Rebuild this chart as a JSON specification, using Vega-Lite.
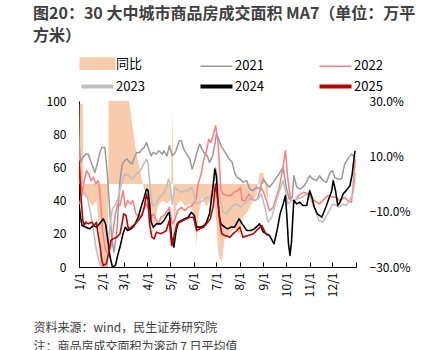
{
  "$schema": "https://vega.github.io/schema/vega-lite/v6.json",
  "width": 277,
  "height": 166,
  "autosize": {"type": "none"},
  "padding": {"left": 79, "top": 101, "right": 83, "bottom": 83},
  "background": "white",
  "config": {"view": {"stroke": null}, "font": "Noto Sans CJK SC"},
  "title": {
    "text": ["图20：30 大中城市商品房成交面积 MA7（单位：万平", "方米）"],
    "anchor": "start", "frame": "group", "dx": -46, "offset": 13,
    "font": "Noto Sans CJK SC", "fontSize": 16, "fontWeight": "bold", "color": "#404040", "lineHeight": 22
  },
  "datasets": {
    "yoy": [
      {"date": "2001-01-01", "series": "同比", "yoy": 0.05},
      {"date": "2001-01-02", "series": "同比", "yoy": 0.29},
      {"date": "2001-01-06", "series": "同比", "yoy": 0.29},
      {"date": "2001-01-07", "series": "同比", "yoy": -0.04},
      {"date": "2001-01-13", "series": "同比", "yoy": -0.06},
      {"date": "2001-01-19", "series": "同比", "yoy": -0.08},
      {"date": "2001-01-24", "series": "同比", "yoy": -0.06},
      {"date": "2001-01-27", "series": "同比", "yoy": -0.14},
      {"date": "2001-01-29", "series": "同比", "yoy": -0.30},
      {"date": "2001-02-08", "series": "同比", "yoy": -0.30},
      {"date": "2001-02-09", "series": "同比", "yoy": 0.30},
      {"date": "2001-03-08", "series": "同比", "yoy": 0.30},
      {"date": "2001-03-12", "series": "同比", "yoy": 0.22},
      {"date": "2001-03-16", "series": "同比", "yoy": 0.14},
      {"date": "2001-03-20", "series": "同比", "yoy": 0.08},
      {"date": "2001-03-24", "series": "同比", "yoy": 0.03},
      {"date": "2001-03-28", "series": "同比", "yoy": -0.02},
      {"date": "2001-04-01", "series": "同比", "yoy": -0.05},
      {"date": "2001-04-05", "series": "同比", "yoy": -0.08},
      {"date": "2001-04-08", "series": "同比", "yoy": -0.18},
      {"date": "2001-04-11", "series": "同比", "yoy": -0.14},
      {"date": "2001-04-15", "series": "同比", "yoy": -0.08},
      {"date": "2001-04-21", "series": "同比", "yoy": -0.06},
      {"date": "2001-04-27", "series": "同比", "yoy": -0.07},
      {"date": "2001-05-02", "series": "同比", "yoy": -0.06},
      {"date": "2001-05-04", "series": "同比", "yoy": 0.26},
      {"date": "2001-05-06", "series": "同比", "yoy": -0.20},
      {"date": "2001-05-09", "series": "同比", "yoy": -0.08},
      {"date": "2001-05-15", "series": "同比", "yoy": -0.06},
      {"date": "2001-05-21", "series": "同比", "yoy": -0.08},
      {"date": "2001-05-27", "series": "同比", "yoy": -0.07},
      {"date": "2001-05-31", "series": "同比", "yoy": -0.10},
      {"date": "2001-06-03", "series": "同比", "yoy": -0.16},
      {"date": "2001-06-05", "series": "同比", "yoy": -0.22},
      {"date": "2001-06-07", "series": "同比", "yoy": -0.12},
      {"date": "2001-06-12", "series": "同比", "yoy": -0.05},
      {"date": "2001-06-18", "series": "同比", "yoy": -0.08},
      {"date": "2001-06-24", "series": "同比", "yoy": -0.06},
      {"date": "2001-06-28", "series": "同比", "yoy": -0.04},
      {"date": "2001-07-01", "series": "同比", "yoy": -0.14},
      {"date": "2001-07-04", "series": "同比", "yoy": -0.26},
      {"date": "2001-07-08", "series": "同比", "yoy": -0.28},
      {"date": "2001-07-12", "series": "同比", "yoy": -0.20},
      {"date": "2001-07-18", "series": "同比", "yoy": -0.18},
      {"date": "2001-07-25", "series": "同比", "yoy": -0.16},
      {"date": "2001-08-01", "series": "同比", "yoy": -0.18},
      {"date": "2001-08-05", "series": "同比", "yoy": -0.12},
      {"date": "2001-08-11", "series": "同比", "yoy": -0.10},
      {"date": "2001-08-17", "series": "同比", "yoy": -0.07},
      {"date": "2001-08-23", "series": "同比", "yoy": -0.04},
      {"date": "2001-08-27", "series": "同比", "yoy": 0.04},
      {"date": "2001-09-01", "series": "同比", "yoy": 0.04},
      {"date": "2001-09-04", "series": "同比", "yoy": -0.03},
      {"date": "2001-09-07", "series": "同比", "yoy": -0.06}
    ],
    "lines": [
      {"date": "2001-01-01", "series": "2021", "value": 77},
      {"date": "2001-01-03", "series": "2021", "value": 63},
      {"date": "2001-01-06", "series": "2021", "value": 66},
      {"date": "2001-01-10", "series": "2021", "value": 68},
      {"date": "2001-01-13", "series": "2021", "value": 68},
      {"date": "2001-01-17", "series": "2021", "value": 63},
      {"date": "2001-01-22", "series": "2021", "value": 57},
      {"date": "2001-01-25", "series": "2021", "value": 62},
      {"date": "2001-01-28", "series": "2021", "value": 68},
      {"date": "2001-01-31", "series": "2021", "value": 72},
      {"date": "2001-02-04", "series": "2021", "value": 72},
      {"date": "2001-02-07", "series": "2021", "value": 58},
      {"date": "2001-02-10", "series": "2021", "value": 38},
      {"date": "2001-02-13", "series": "2021", "value": 18},
      {"date": "2001-02-16", "series": "2021", "value": 9},
      {"date": "2001-02-20", "series": "2021", "value": 22},
      {"date": "2001-02-24", "series": "2021", "value": 52},
      {"date": "2001-02-27", "series": "2021", "value": 62},
      {"date": "2001-03-02", "series": "2021", "value": 64},
      {"date": "2001-03-05", "series": "2021", "value": 65},
      {"date": "2001-03-09", "series": "2021", "value": 63},
      {"date": "2001-03-12", "series": "2021", "value": 62},
      {"date": "2001-03-15", "series": "2021", "value": 66},
      {"date": "2001-03-18", "series": "2021", "value": 69},
      {"date": "2001-03-22", "series": "2021", "value": 69},
      {"date": "2001-03-25", "series": "2021", "value": 71},
      {"date": "2001-03-28", "series": "2021", "value": 72},
      {"date": "2001-03-31", "series": "2021", "value": 75},
      {"date": "2001-04-02", "series": "2021", "value": 72},
      {"date": "2001-04-06", "series": "2021", "value": 67},
      {"date": "2001-04-09", "series": "2021", "value": 69},
      {"date": "2001-04-13", "series": "2021", "value": 68},
      {"date": "2001-04-16", "series": "2021", "value": 70},
      {"date": "2001-04-21", "series": "2021", "value": 68},
      {"date": "2001-04-23", "series": "2021", "value": 70},
      {"date": "2001-04-27", "series": "2021", "value": 67},
      {"date": "2001-04-30", "series": "2021", "value": 73},
      {"date": "2001-05-04", "series": "2021", "value": 67},
      {"date": "2001-05-08", "series": "2021", "value": 69},
      {"date": "2001-05-13", "series": "2021", "value": 76},
      {"date": "2001-05-16", "series": "2021", "value": 76},
      {"date": "2001-05-19", "series": "2021", "value": 71},
      {"date": "2001-05-23", "series": "2021", "value": 68},
      {"date": "2001-05-27", "series": "2021", "value": 65},
      {"date": "2001-05-30", "series": "2021", "value": 59},
      {"date": "2001-06-02", "series": "2021", "value": 63},
      {"date": "2001-06-06", "series": "2021", "value": 70},
      {"date": "2001-06-09", "series": "2021", "value": 74},
      {"date": "2001-06-12", "series": "2021", "value": 71},
      {"date": "2001-06-16", "series": "2021", "value": 68},
      {"date": "2001-06-19", "series": "2021", "value": 67},
      {"date": "2001-06-22", "series": "2021", "value": 63},
      {"date": "2001-06-26", "series": "2021", "value": 67},
      {"date": "2001-06-29", "series": "2021", "value": 74},
      {"date": "2001-07-01", "series": "2021", "value": 80},
      {"date": "2001-07-04", "series": "2021", "value": 77},
      {"date": "2001-07-07", "series": "2021", "value": 73},
      {"date": "2001-07-10", "series": "2021", "value": 71},
      {"date": "2001-07-14", "series": "2021", "value": 68},
      {"date": "2001-07-18", "series": "2021", "value": 65},
      {"date": "2001-07-22", "series": "2021", "value": 63},
      {"date": "2001-07-25", "series": "2021", "value": 57},
      {"date": "2001-07-28", "series": "2021", "value": 54},
      {"date": "2001-08-01", "series": "2021", "value": 53},
      {"date": "2001-08-05", "series": "2021", "value": 51},
      {"date": "2001-08-10", "series": "2021", "value": 52},
      {"date": "2001-08-14", "series": "2021", "value": 47},
      {"date": "2001-08-18", "series": "2021", "value": 46},
      {"date": "2001-08-23", "series": "2021", "value": 48},
      {"date": "2001-08-27", "series": "2021", "value": 47},
      {"date": "2001-09-01", "series": "2021", "value": 53},
      {"date": "2001-09-05", "series": "2021", "value": 50},
      {"date": "2001-09-09", "series": "2021", "value": 48},
      {"date": "2001-09-14", "series": "2021", "value": 51},
      {"date": "2001-09-20", "series": "2021", "value": 55},
      {"date": "2001-09-27", "series": "2021", "value": 60},
      {"date": "2001-10-01", "series": "2021", "value": 48},
      {"date": "2001-10-05", "series": "2021", "value": 41},
      {"date": "2001-10-09", "series": "2021", "value": 42},
      {"date": "2001-10-11", "series": "2021", "value": 55},
      {"date": "2001-10-15", "series": "2021", "value": 48},
      {"date": "2001-10-20", "series": "2021", "value": 47},
      {"date": "2001-10-25", "series": "2021", "value": 49},
      {"date": "2001-11-01", "series": "2021", "value": 55},
      {"date": "2001-11-05", "series": "2021", "value": 53},
      {"date": "2001-11-10", "series": "2021", "value": 52},
      {"date": "2001-11-14", "series": "2021", "value": 55},
      {"date": "2001-11-19", "series": "2021", "value": 52},
      {"date": "2001-11-23", "series": "2021", "value": 51},
      {"date": "2001-11-28", "series": "2021", "value": 57},
      {"date": "2001-12-01", "series": "2021", "value": 58},
      {"date": "2001-12-04", "series": "2021", "value": 54},
      {"date": "2001-12-08", "series": "2021", "value": 53},
      {"date": "2001-12-13", "series": "2021", "value": 53},
      {"date": "2001-12-17", "series": "2021", "value": 62},
      {"date": "2001-12-21", "series": "2021", "value": 65},
      {"date": "2001-12-26", "series": "2021", "value": 68},
      {"date": "2001-12-29", "series": "2021", "value": 67},
      {"date": "2001-12-31", "series": "2021", "value": 66},

      {"date": "2001-01-01", "series": "2022", "value": 68},
      {"date": "2001-01-03", "series": "2022", "value": 56},
      {"date": "2001-01-05", "series": "2022", "value": 44},
      {"date": "2001-01-08", "series": "2022", "value": 52},
      {"date": "2001-01-11", "series": "2022", "value": 58},
      {"date": "2001-01-14", "series": "2022", "value": 56},
      {"date": "2001-01-17", "series": "2022", "value": 52},
      {"date": "2001-01-20", "series": "2022", "value": 54},
      {"date": "2001-01-23", "series": "2022", "value": 50},
      {"date": "2001-01-26", "series": "2022", "value": 52},
      {"date": "2001-01-28", "series": "2022", "value": 48},
      {"date": "2001-01-30", "series": "2022", "value": 36},
      {"date": "2001-02-01", "series": "2022", "value": 22},
      {"date": "2001-02-05", "series": "2022", "value": 10},
      {"date": "2001-02-08", "series": "2022", "value": 8},
      {"date": "2001-02-12", "series": "2022", "value": 12},
      {"date": "2001-02-15", "series": "2022", "value": 22},
      {"date": "2001-02-18", "series": "2022", "value": 32},
      {"date": "2001-02-21", "series": "2022", "value": 38},
      {"date": "2001-02-24", "series": "2022", "value": 37},
      {"date": "2001-02-28", "series": "2022", "value": 46},
      {"date": "2001-03-03", "series": "2022", "value": 36},
      {"date": "2001-03-06", "series": "2022", "value": 40},
      {"date": "2001-03-10", "series": "2022", "value": 38},
      {"date": "2001-03-13", "series": "2022", "value": 40},
      {"date": "2001-03-17", "series": "2022", "value": 32},
      {"date": "2001-03-22", "series": "2022", "value": 30},
      {"date": "2001-03-25", "series": "2022", "value": 32},
      {"date": "2001-03-28", "series": "2022", "value": 36},
      {"date": "2001-03-31", "series": "2022", "value": 38},
      {"date": "2001-04-03", "series": "2022", "value": 34},
      {"date": "2001-04-06", "series": "2022", "value": 30},
      {"date": "2001-04-09", "series": "2022", "value": 32},
      {"date": "2001-04-13", "series": "2022", "value": 28},
      {"date": "2001-04-16", "series": "2022", "value": 26},
      {"date": "2001-04-19", "series": "2022", "value": 30},
      {"date": "2001-04-23", "series": "2022", "value": 31},
      {"date": "2001-04-28", "series": "2022", "value": 34},
      {"date": "2001-04-30", "series": "2022", "value": 36},
      {"date": "2001-05-04", "series": "2022", "value": 26},
      {"date": "2001-05-07", "series": "2022", "value": 28},
      {"date": "2001-05-11", "series": "2022", "value": 34},
      {"date": "2001-05-16", "series": "2022", "value": 36},
      {"date": "2001-05-20", "series": "2022", "value": 34},
      {"date": "2001-05-25", "series": "2022", "value": 36},
      {"date": "2001-05-30", "series": "2022", "value": 37},
      {"date": "2001-06-04", "series": "2022", "value": 40},
      {"date": "2001-06-07", "series": "2022", "value": 50},
      {"date": "2001-06-11", "series": "2022", "value": 56},
      {"date": "2001-06-14", "series": "2022", "value": 64},
      {"date": "2001-06-18", "series": "2022", "value": 70},
      {"date": "2001-06-21", "series": "2022", "value": 77},
      {"date": "2001-06-24", "series": "2022", "value": 75},
      {"date": "2001-06-27", "series": "2022", "value": 80},
      {"date": "2001-06-30", "series": "2022", "value": 85},
      {"date": "2001-07-03", "series": "2022", "value": 76},
      {"date": "2001-07-05", "series": "2022", "value": 62},
      {"date": "2001-07-07", "series": "2022", "value": 46},
      {"date": "2001-07-10", "series": "2022", "value": 44},
      {"date": "2001-07-15", "series": "2022", "value": 43},
      {"date": "2001-07-20", "series": "2022", "value": 43},
      {"date": "2001-07-24", "series": "2022", "value": 45},
      {"date": "2001-07-29", "series": "2022", "value": 46},
      {"date": "2001-08-02", "series": "2022", "value": 48},
      {"date": "2001-08-04", "series": "2022", "value": 40},
      {"date": "2001-08-08", "series": "2022", "value": 40},
      {"date": "2001-08-13", "series": "2022", "value": 44},
      {"date": "2001-08-16", "series": "2022", "value": 41},
      {"date": "2001-08-20", "series": "2022", "value": 40},
      {"date": "2001-08-24", "series": "2022", "value": 41},
      {"date": "2001-08-29", "series": "2022", "value": 48},
      {"date": "2001-09-02", "series": "2022", "value": 44},
      {"date": "2001-09-05", "series": "2022", "value": 40},
      {"date": "2001-09-09", "series": "2022", "value": 34},
      {"date": "2001-09-14", "series": "2022", "value": 36},
      {"date": "2001-09-22", "series": "2022", "value": 48},
      {"date": "2001-09-26", "series": "2022", "value": 58},
      {"date": "2001-09-30", "series": "2022", "value": 70},
      {"date": "2001-10-03", "series": "2022", "value": 54},
      {"date": "2001-10-07", "series": "2022", "value": 40},
      {"date": "2001-10-13", "series": "2022", "value": 40},
      {"date": "2001-10-17", "series": "2022", "value": 43},
      {"date": "2001-10-24", "series": "2022", "value": 45},
      {"date": "2001-10-31", "series": "2022", "value": 44},
      {"date": "2001-11-03", "series": "2022", "value": 42},
      {"date": "2001-11-07", "series": "2022", "value": 40},
      {"date": "2001-11-14", "series": "2022", "value": 38},
      {"date": "2001-11-18", "series": "2022", "value": 40},
      {"date": "2001-11-25", "series": "2022", "value": 43},
      {"date": "2001-12-02", "series": "2022", "value": 42},
      {"date": "2001-12-06", "series": "2022", "value": 42},
      {"date": "2001-12-10", "series": "2022", "value": 40},
      {"date": "2001-12-17", "series": "2022", "value": 42},
      {"date": "2001-12-21", "series": "2022", "value": 40},
      {"date": "2001-12-26", "series": "2022", "value": 39},
      {"date": "2001-12-28", "series": "2022", "value": 48},
      {"date": "2001-12-31", "series": "2022", "value": 65},

      {"date": "2001-01-01", "series": "2023", "value": 36},
      {"date": "2001-01-04", "series": "2023", "value": 42},
      {"date": "2001-01-08", "series": "2023", "value": 45},
      {"date": "2001-01-12", "series": "2023", "value": 42},
      {"date": "2001-01-16", "series": "2023", "value": 33},
      {"date": "2001-01-20", "series": "2023", "value": 22},
      {"date": "2001-01-24", "series": "2023", "value": 10},
      {"date": "2001-01-28", "series": "2023", "value": 2},
      {"date": "2001-02-01", "series": "2023", "value": 0},
      {"date": "2001-02-07", "series": "2023", "value": 1},
      {"date": "2001-02-10", "series": "2023", "value": 22},
      {"date": "2001-02-14", "series": "2023", "value": 35},
      {"date": "2001-02-20", "series": "2023", "value": 39},
      {"date": "2001-02-26", "series": "2023", "value": 50},
      {"date": "2001-03-01", "series": "2023", "value": 55},
      {"date": "2001-03-05", "series": "2023", "value": 56},
      {"date": "2001-03-10", "series": "2023", "value": 54},
      {"date": "2001-03-13", "series": "2023", "value": 53},
      {"date": "2001-03-17", "series": "2023", "value": 56},
      {"date": "2001-03-21", "series": "2023", "value": 57},
      {"date": "2001-03-24", "series": "2023", "value": 59},
      {"date": "2001-03-27", "series": "2023", "value": 62},
      {"date": "2001-03-31", "series": "2023", "value": 65},
      {"date": "2001-04-02", "series": "2023", "value": 62},
      {"date": "2001-04-04", "series": "2023", "value": 52},
      {"date": "2001-04-06", "series": "2023", "value": 42},
      {"date": "2001-04-08", "series": "2023", "value": 37},
      {"date": "2001-04-13", "series": "2023", "value": 38},
      {"date": "2001-04-17", "series": "2023", "value": 42},
      {"date": "2001-04-22", "series": "2023", "value": 44},
      {"date": "2001-04-26", "series": "2023", "value": 48},
      {"date": "2001-04-29", "series": "2023", "value": 53},
      {"date": "2001-05-01", "series": "2023", "value": 50},
      {"date": "2001-05-04", "series": "2023", "value": 38},
      {"date": "2001-05-07", "series": "2023", "value": 48},
      {"date": "2001-05-12", "series": "2023", "value": 46},
      {"date": "2001-05-16", "series": "2023", "value": 45},
      {"date": "2001-05-20", "series": "2023", "value": 46},
      {"date": "2001-05-25", "series": "2023", "value": 46},
      {"date": "2001-05-29", "series": "2023", "value": 48},
      {"date": "2001-05-31", "series": "2023", "value": 46},
      {"date": "2001-06-05", "series": "2023", "value": 38},
      {"date": "2001-06-09", "series": "2023", "value": 39},
      {"date": "2001-06-14", "series": "2023", "value": 40},
      {"date": "2001-06-18", "series": "2023", "value": 42},
      {"date": "2001-06-22", "series": "2023", "value": 41},
      {"date": "2001-06-26", "series": "2023", "value": 46},
      {"date": "2001-06-30", "series": "2023", "value": 60},
      {"date": "2001-07-03", "series": "2023", "value": 50},
      {"date": "2001-07-06", "series": "2023", "value": 40},
      {"date": "2001-07-10", "series": "2023", "value": 33},
      {"date": "2001-07-14", "series": "2023", "value": 32},
      {"date": "2001-07-19", "series": "2023", "value": 35},
      {"date": "2001-07-23", "series": "2023", "value": 37},
      {"date": "2001-07-28", "series": "2023", "value": 38},
      {"date": "2001-08-02", "series": "2023", "value": 36},
      {"date": "2001-08-06", "series": "2023", "value": 38},
      {"date": "2001-08-12", "series": "2023", "value": 40},
      {"date": "2001-08-16", "series": "2023", "value": 43},
      {"date": "2001-08-20", "series": "2023", "value": 40},
      {"date": "2001-08-25", "series": "2023", "value": 41},
      {"date": "2001-08-29", "series": "2023", "value": 44},
      {"date": "2001-09-03", "series": "2023", "value": 36},
      {"date": "2001-09-07", "series": "2023", "value": 27},
      {"date": "2001-09-12", "series": "2023", "value": 30},
      {"date": "2001-09-18", "series": "2023", "value": 40},
      {"date": "2001-09-23", "series": "2023", "value": 47},
      {"date": "2001-09-27", "series": "2023", "value": 52},
      {"date": "2001-09-30", "series": "2023", "value": 46},
      {"date": "2001-10-03", "series": "2023", "value": 38},
      {"date": "2001-10-08", "series": "2023", "value": 40},
      {"date": "2001-10-15", "series": "2023", "value": 41},
      {"date": "2001-10-22", "series": "2023", "value": 42},
      {"date": "2001-10-28", "series": "2023", "value": 44},
      {"date": "2001-11-01", "series": "2023", "value": 42},
      {"date": "2001-11-05", "series": "2023", "value": 38},
      {"date": "2001-11-09", "series": "2023", "value": 34},
      {"date": "2001-11-13", "series": "2023", "value": 28},
      {"date": "2001-11-18", "series": "2023", "value": 27},
      {"date": "2001-11-22", "series": "2023", "value": 30},
      {"date": "2001-11-27", "series": "2023", "value": 34},
      {"date": "2001-12-01", "series": "2023", "value": 38},
      {"date": "2001-12-06", "series": "2023", "value": 37},
      {"date": "2001-12-10", "series": "2023", "value": 36},
      {"date": "2001-12-15", "series": "2023", "value": 38},
      {"date": "2001-12-19", "series": "2023", "value": 37},
      {"date": "2001-12-23", "series": "2023", "value": 40},
      {"date": "2001-12-28", "series": "2023", "value": 44},
      {"date": "2001-12-30", "series": "2023", "value": 50},
      {"date": "2001-12-31", "series": "2023", "value": 57},

      {"date": "2001-01-01", "series": "2024", "value": 38},
      {"date": "2001-01-03", "series": "2024", "value": 30},
      {"date": "2001-01-05", "series": "2024", "value": 25},
      {"date": "2001-01-10", "series": "2024", "value": 24},
      {"date": "2001-01-15", "series": "2024", "value": 23},
      {"date": "2001-01-20", "series": "2024", "value": 25},
      {"date": "2001-01-24", "series": "2024", "value": 24},
      {"date": "2001-01-28", "series": "2024", "value": 26},
      {"date": "2001-02-02", "series": "2024", "value": 29},
      {"date": "2001-02-05", "series": "2024", "value": 26},
      {"date": "2001-02-08", "series": "2024", "value": 16},
      {"date": "2001-02-11", "series": "2024", "value": 6},
      {"date": "2001-02-14", "series": "2024", "value": 0},
      {"date": "2001-02-18", "series": "2024", "value": 1},
      {"date": "2001-02-21", "series": "2024", "value": 7},
      {"date": "2001-02-24", "series": "2024", "value": 12},
      {"date": "2001-02-28", "series": "2024", "value": 20},
      {"date": "2001-03-03", "series": "2024", "value": 24},
      {"date": "2001-03-06", "series": "2024", "value": 22},
      {"date": "2001-03-11", "series": "2024", "value": 23},
      {"date": "2001-03-15", "series": "2024", "value": 25},
      {"date": "2001-03-20", "series": "2024", "value": 30},
      {"date": "2001-03-25", "series": "2024", "value": 38},
      {"date": "2001-03-28", "series": "2024", "value": 42},
      {"date": "2001-03-31", "series": "2024", "value": 47},
      {"date": "2001-04-02", "series": "2024", "value": 46},
      {"date": "2001-04-04", "series": "2024", "value": 38},
      {"date": "2001-04-06", "series": "2024", "value": 27},
      {"date": "2001-04-09", "series": "2024", "value": 24},
      {"date": "2001-04-13", "series": "2024", "value": 26},
      {"date": "2001-04-19", "series": "2024", "value": 26},
      {"date": "2001-04-23", "series": "2024", "value": 28},
      {"date": "2001-04-28", "series": "2024", "value": 32},
      {"date": "2001-04-30", "series": "2024", "value": 33},
      {"date": "2001-05-03", "series": "2024", "value": 18},
      {"date": "2001-05-06", "series": "2024", "value": 12},
      {"date": "2001-05-09", "series": "2024", "value": 22},
      {"date": "2001-05-12", "series": "2024", "value": 27},
      {"date": "2001-05-16", "series": "2024", "value": 28},
      {"date": "2001-05-20", "series": "2024", "value": 29},
      {"date": "2001-05-25", "series": "2024", "value": 30},
      {"date": "2001-05-29", "series": "2024", "value": 33},
      {"date": "2001-06-02", "series": "2024", "value": 31},
      {"date": "2001-06-05", "series": "2024", "value": 24},
      {"date": "2001-06-10", "series": "2024", "value": 24},
      {"date": "2001-06-15", "series": "2024", "value": 25},
      {"date": "2001-06-18", "series": "2024", "value": 27},
      {"date": "2001-06-22", "series": "2024", "value": 32},
      {"date": "2001-06-26", "series": "2024", "value": 46},
      {"date": "2001-06-29", "series": "2024", "value": 59},
      {"date": "2001-07-01", "series": "2024", "value": 55},
      {"date": "2001-07-03", "series": "2024", "value": 40},
      {"date": "2001-07-05", "series": "2024", "value": 30},
      {"date": "2001-07-07", "series": "2024", "value": 26},
      {"date": "2001-07-12", "series": "2024", "value": 24},
      {"date": "2001-07-16", "series": "2024", "value": 23},
      {"date": "2001-07-20", "series": "2024", "value": 24},
      {"date": "2001-07-25", "series": "2024", "value": 24},
      {"date": "2001-07-31", "series": "2024", "value": 29},
      {"date": "2001-08-04", "series": "2024", "value": 26},
      {"date": "2001-08-10", "series": "2024", "value": 22},
      {"date": "2001-08-16", "series": "2024", "value": 22},
      {"date": "2001-08-20", "series": "2024", "value": 23},
      {"date": "2001-08-27", "series": "2024", "value": 26},
      {"date": "2001-09-01", "series": "2024", "value": 21},
      {"date": "2001-09-09", "series": "2024", "value": 19},
      {"date": "2001-09-15", "series": "2024", "value": 14},
      {"date": "2001-09-19", "series": "2024", "value": 22},
      {"date": "2001-09-23", "series": "2024", "value": 32},
      {"date": "2001-09-27", "series": "2024", "value": 38},
      {"date": "2001-09-30", "series": "2024", "value": 43},
      {"date": "2001-10-02", "series": "2024", "value": 30},
      {"date": "2001-10-04", "series": "2024", "value": 14},
      {"date": "2001-10-06", "series": "2024", "value": 7},
      {"date": "2001-10-08", "series": "2024", "value": 15},
      {"date": "2001-10-11", "series": "2024", "value": 40},
      {"date": "2001-10-15", "series": "2024", "value": 38},
      {"date": "2001-10-19", "series": "2024", "value": 39},
      {"date": "2001-10-23", "series": "2024", "value": 37},
      {"date": "2001-10-28", "series": "2024", "value": 37},
      {"date": "2001-11-01", "series": "2024", "value": 46},
      {"date": "2001-11-04", "series": "2024", "value": 42},
      {"date": "2001-11-07", "series": "2024", "value": 36},
      {"date": "2001-11-11", "series": "2024", "value": 32},
      {"date": "2001-11-17", "series": "2024", "value": 30},
      {"date": "2001-11-23", "series": "2024", "value": 37},
      {"date": "2001-11-30", "series": "2024", "value": 46},
      {"date": "2001-12-02", "series": "2024", "value": 52},
      {"date": "2001-12-05", "series": "2024", "value": 46},
      {"date": "2001-12-08", "series": "2024", "value": 37},
      {"date": "2001-12-11", "series": "2024", "value": 39},
      {"date": "2001-12-15", "series": "2024", "value": 44},
      {"date": "2001-12-19", "series": "2024", "value": 46},
      {"date": "2001-12-24", "series": "2024", "value": 49},
      {"date": "2001-12-27", "series": "2024", "value": 56},
      {"date": "2001-12-30", "series": "2024", "value": 68},
      {"date": "2001-12-31", "series": "2024", "value": 70},

      {"date": "2001-01-01", "series": "2025", "value": 64},
      {"date": "2001-01-03", "series": "2025", "value": 46},
      {"date": "2001-01-06", "series": "2025", "value": 28},
      {"date": "2001-01-08", "series": "2025", "value": 25},
      {"date": "2001-01-10", "series": "2025", "value": 27},
      {"date": "2001-01-13", "series": "2025", "value": 26},
      {"date": "2001-01-18", "series": "2025", "value": 27},
      {"date": "2001-01-21", "series": "2025", "value": 25},
      {"date": "2001-01-24", "series": "2025", "value": 27},
      {"date": "2001-01-26", "series": "2025", "value": 20},
      {"date": "2001-01-29", "series": "2025", "value": 12},
      {"date": "2001-01-31", "series": "2025", "value": 4},
      {"date": "2001-02-02", "series": "2025", "value": 1},
      {"date": "2001-02-06", "series": "2025", "value": 2},
      {"date": "2001-02-09", "series": "2025", "value": 8},
      {"date": "2001-02-12", "series": "2025", "value": 16},
      {"date": "2001-02-15", "series": "2025", "value": 17},
      {"date": "2001-02-20", "series": "2025", "value": 18},
      {"date": "2001-02-24", "series": "2025", "value": 20},
      {"date": "2001-02-27", "series": "2025", "value": 27},
      {"date": "2001-03-01", "series": "2025", "value": 32},
      {"date": "2001-03-04", "series": "2025", "value": 31},
      {"date": "2001-03-07", "series": "2025", "value": 23},
      {"date": "2001-03-11", "series": "2025", "value": 24},
      {"date": "2001-03-16", "series": "2025", "value": 26},
      {"date": "2001-03-20", "series": "2025", "value": 28},
      {"date": "2001-03-25", "series": "2025", "value": 31},
      {"date": "2001-03-28", "series": "2025", "value": 36},
      {"date": "2001-03-31", "series": "2025", "value": 44},
      {"date": "2001-04-02", "series": "2025", "value": 40},
      {"date": "2001-04-04", "series": "2025", "value": 26},
      {"date": "2001-04-07", "series": "2025", "value": 18},
      {"date": "2001-04-10", "series": "2025", "value": 17},
      {"date": "2001-04-13", "series": "2025", "value": 21},
      {"date": "2001-04-18", "series": "2025", "value": 20},
      {"date": "2001-04-23", "series": "2025", "value": 21},
      {"date": "2001-04-26", "series": "2025", "value": 22},
      {"date": "2001-04-30", "series": "2025", "value": 28},
      {"date": "2001-05-03", "series": "2025", "value": 13},
      {"date": "2001-05-06", "series": "2025", "value": 18},
      {"date": "2001-05-10", "series": "2025", "value": 26},
      {"date": "2001-05-14", "series": "2025", "value": 27},
      {"date": "2001-05-18", "series": "2025", "value": 28},
      {"date": "2001-05-23", "series": "2025", "value": 29},
      {"date": "2001-05-27", "series": "2025", "value": 30},
      {"date": "2001-06-01", "series": "2025", "value": 30},
      {"date": "2001-06-05", "series": "2025", "value": 22},
      {"date": "2001-06-09", "series": "2025", "value": 23},
      {"date": "2001-06-14", "series": "2025", "value": 24},
      {"date": "2001-06-18", "series": "2025", "value": 26},
      {"date": "2001-06-23", "series": "2025", "value": 29},
      {"date": "2001-06-27", "series": "2025", "value": 37},
      {"date": "2001-06-29", "series": "2025", "value": 46},
      {"date": "2001-06-30", "series": "2025", "value": 50},
      {"date": "2001-07-03", "series": "2025", "value": 40},
      {"date": "2001-07-06", "series": "2025", "value": 26},
      {"date": "2001-07-08", "series": "2025", "value": 20},
      {"date": "2001-07-12", "series": "2025", "value": 19},
      {"date": "2001-07-19", "series": "2025", "value": 18},
      {"date": "2001-07-23", "series": "2025", "value": 20},
      {"date": "2001-07-28", "series": "2025", "value": 22},
      {"date": "2001-08-01", "series": "2025", "value": 24},
      {"date": "2001-08-05", "series": "2025", "value": 18},
      {"date": "2001-08-12", "series": "2025", "value": 19},
      {"date": "2001-08-19", "series": "2025", "value": 20},
      {"date": "2001-08-25", "series": "2025", "value": 23},
      {"date": "2001-08-30", "series": "2025", "value": 25},
      {"date": "2001-09-03", "series": "2025", "value": 21},
      {"date": "2001-09-06", "series": "2025", "value": 19}
    ]
  },
  "encoding": {
    "x": {
      "field": "date", "type": "temporal",
      "scale": {"type": "utc", "domain": [{"year": 2001, "month": 1, "date": 1, "utc": true}, {"year": 2002, "month": 1, "date": 1, "utc": true}]},
      "axis": {
        "values": [
          {"year": 2001, "month": 1, "date": 1, "utc": true},
          {"year": 2001, "month": 2, "date": 1, "utc": true},
          {"year": 2001, "month": 3, "date": 1, "utc": true},
          {"year": 2001, "month": 4, "date": 1, "utc": true},
          {"year": 2001, "month": 5, "date": 1, "utc": true},
          {"year": 2001, "month": 6, "date": 1, "utc": true},
          {"year": 2001, "month": 7, "date": 1, "utc": true},
          {"year": 2001, "month": 8, "date": 1, "utc": true},
          {"year": 2001, "month": 9, "date": 1, "utc": true},
          {"year": 2001, "month": 10, "date": 1, "utc": true},
          {"year": 2001, "month": 11, "date": 1, "utc": true},
          {"year": 2001, "month": 12, "date": 1, "utc": true},
          {"year": 2002, "month": 1, "date": 1, "utc": true}
        ],
        "labelExpr": "utcyear(datum.value) > 2001 ? '' : (utcmonth(datum.value) + 1) + '/' + utcdate(datum.value)",
        "labelOverlap": false,
        "labelAngle": -90, "labelAlign": "right", "labelBaseline": "middle",
        "labelFontSize": 12, "labelColor": "#000000", "labelPadding": 10,
        "tickSize": -5, "tickColor": "#000000", "domainColor": "#000000", "grid": false,
        "title": ["资料来源：wind，民生证券研究院", "注：商品房成交面积为滚动 7 日平均值"],
        "titleAnchor": "start", "titleAlign": "left", "titleX": -46, "titleY": 55, "titleBaseline": "top",
        "titleFontSize": 12, "titleFontWeight": "normal", "titleColor": "#404040", "titleLineHeight": 19
      }
    }
  },
  "layer": [
    {
      "data": {"name": "yoy"},
      "mark": {"type": "area", "clip": true, "opacity": 1},
      "encoding": {
        "y": {
          "field": "yoy", "type": "quantitative",
          "scale": {"domain": [-0.3, 0.3], "nice": false, "zero": false},
          "axis": {"orient": "right", "values": [-0.3, -0.1, 0.1, 0.3], "format": ".1%", "domain": false, "ticks": false, "grid": false, "labelPadding": 13, "labelFontSize": 12, "labelColor": "#000000", "title": null}
        },
        "color": {"field": "series", "type": "nominal"}
      }
    },
    {
      "data": {"name": "lines"},
      "mark": {"type": "line", "clip": true, "strokeJoin": "round"},
      "encoding": {
        "y": {
          "field": "value", "type": "quantitative",
          "scale": {"domain": [0, 100], "nice": false},
          "axis": {"values": [0, 20, 40, 60, 80, 100], "ticks": false, "grid": false, "domainColor": "#000000", "labelPadding": 13, "labelFontSize": 12, "labelColor": "#000000", "title": null}
        },
        "color": {
          "field": "series", "type": "nominal",
          "scale": {"domain": ["同比", "2021", "2022", "2023", "2024", "2025"], "range": ["#f8cbad", "#999999", "#ff7c80", "#bfbfbf", "#000000", "#c00000"]},
          "legend": {
            "orient": "none", "legendX": 12, "legendY": -44, "columns": 3, "direction": "horizontal", "title": null,
            "padding": 0, "symbolSize": 256, "labelOffset": 12, "labelFontSize": 13, "labelColor": "#000000",
            "columnPadding": 47, "rowPadding": 2, "gridAlign": "all",
            "encode": {
              "symbols": {
                "update": {
                  "shape": {"signal": "datum.label === '同比' ? 'M-2,-0.55H2V0.55H-2Z' : 'M-2,0H2'"},
                  "fill": {"signal": "datum.label === '同比' ? '#f8cbad' : 'transparent'"},
                  "stroke": {"signal": "datum.label === '同比' ? 'transparent' : scale('color', datum.value)"},
                  "strokeWidth": {"signal": "datum.label === '2021' || datum.label === '2022' ? 1.5 : 4"},
                  "opacity": {"value": 1}
                }
              }
            }
          }
        },
        "strokeWidth": {
          "field": "series", "type": "ordinal",
          "scale": {"domain": ["2021", "2022", "2023", "2024", "2025"], "range": [1.5, 1.6, 4, 4, 3.5]},
          "legend": null
        }
      }
    }
  ],
  "resolve": {"scale": {"y": "independent"}}
}
